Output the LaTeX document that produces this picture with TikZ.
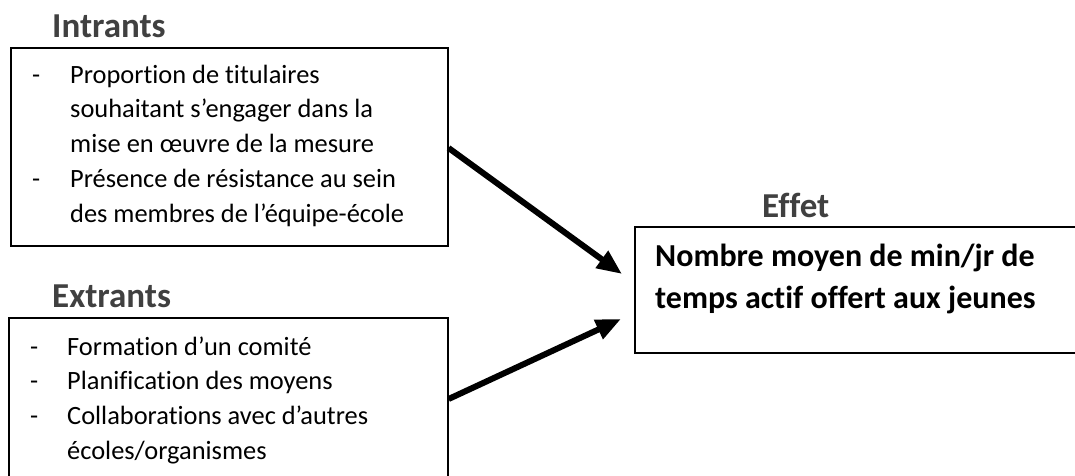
\documentclass[tikz,border=0pt]{standalone}
\usepackage{fontspec}
\setmainfont{Carlito}[Ligatures={NoCommon}]
\usetikzlibrary{arrows.meta,calc}
\definecolor{headgray}{RGB}{64,64,64}
\begin{document}
\begin{tikzpicture}[x=1pt,y=-1pt,
  frame/.style={draw=black,line width=1.6pt,inner sep=0pt,anchor=north west},
  heading/.style={anchor=base west,inner sep=0pt,text=headgray,font=\fontsize{35}{42}\selectfont\bfseries},
  itemtext/.style={anchor=base west,inner sep=0pt,font=\fontsize{26.4}{34.8}\selectfont},
  effettext/.style={anchor=base west,inner sep=0pt,font=\fontsize{32}{42}\selectfont\bfseries},
  link/.style={line width=6pt,-{Triangle[length=25pt,width=20pt]}}]
\useasboundingbox (0,0) rectangle (1075,475);
% boxes
\node[frame,minimum width=437pt,minimum height=198pt] (intrants) at (10,47) {};
\node[frame,minimum width=439pt,minimum height=180pt] (extrants) at (8,317) {};
\node[frame,minimum width=460pt,minimum height=126pt] (effet) at (634,226) {};
% headings
\node[heading] (hin) at (52,37) {Intrants};
\node[heading] (hex) at (52,307) {Extrants};
\node[heading] (hef) at (762,217) {Effet};
% intrants items
\node[itemtext] (d1) at (32,83) {-};
\node[itemtext] (i1) at (70,83) {Proportion de titulaires};
\node[itemtext] (i2) at (70,117.8) {souhaitant s’engager dans la};
\node[itemtext] (i3) at (70,152.6) {mise en œuvre de la mesure};
\node[itemtext] (d2) at (32,187.4) {-};
\node[itemtext] (i4) at (70,187.4) {Présence de résistance au sein};
\node[itemtext] (i5) at (70,222.2) {des membres de l’équipe-école};
% extrants items
\node[itemtext] (d3) at (30,355) {-};
\node[itemtext] (e1) at (67,355) {Formation d’un comité};
\node[itemtext] (d4) at (30,389.8) {-};
\node[itemtext] (e2) at (67,389.8) {Planification des moyens};
\node[itemtext] (d5) at (30,424.6) {-};
\node[itemtext] (e3) at (67,424.6) {Collaborations avec d’autres};
\node[itemtext] (e4) at (67,459.4) {écoles/organismes};
% effet text
\node[effettext] (f1) at (655,266) {Nombre moyen de min/jr de};
\node[effettext] (f2) at (655,308) {temps actif offert aux jeunes};
% arrows
\coordinate (s1) at ($(intrants.north east)+(0,101)$);
\coordinate (t1) at ($(effet.north west)+(-12,48)$);
\coordinate (s2) at ($(extrants.north east)+(0,82)$);
\coordinate (t2) at ($(effet.north west)+(-13,93)$);
\draw[link] (s1) -- (t1);
\draw[link] (s2) -- (t2);
\end{tikzpicture}
\end{document}
